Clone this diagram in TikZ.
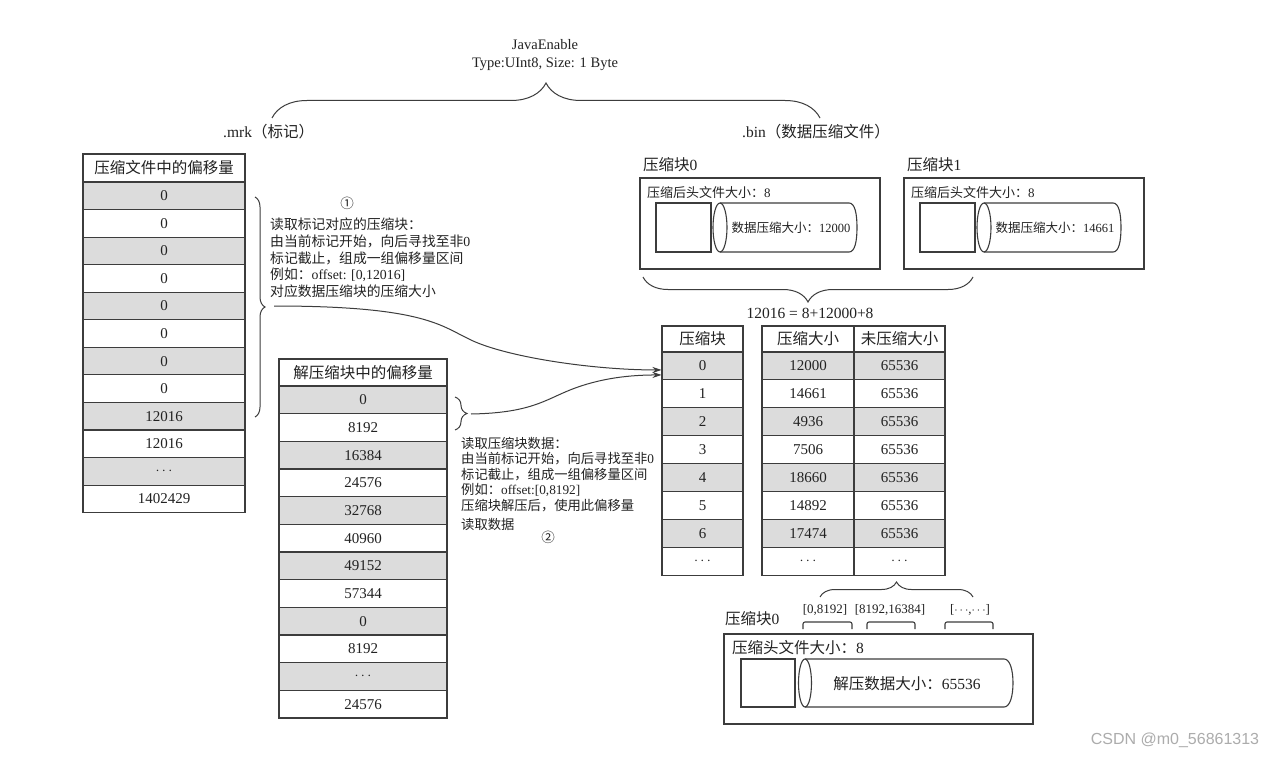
\documentclass[tikz,border=0pt]{standalone}
\usepackage{fontspec}
\setmainfont{Liberation Serif}
\newfontfamily\cjkf{Noto Sans CJK SC}
\newfontfamily\wmfont{Liberation Sans}
\usetikzlibrary{decorations.pathreplacing,arrows.meta}
\newcommand\zh[1]{{\cjkf #1}}
\newcommand\cdt{$\cdots$}
\definecolor{linec}{HTML}{3C3C3C}
\definecolor{cellgray}{HTML}{DCDCDC}
\definecolor{txt}{HTML}{222222}
\begin{document}
\begin{tikzpicture}[x=1pt,y=-1pt,
  cell/.style={draw=linec,line width=1.1pt,inner sep=0pt,text=txt,font=\fontsize{15}{18}\selectfont},
  cellzh/.style={cell,font=\cjkf\fontsize{15.5}{18}\selectfont},
  row1/.style={fill=cellgray},
  row0/.style={fill=white},
  lbl/.style={inner sep=0pt,text=txt},
  boxst/.style={draw=linec,line width=1.1pt,inner sep=0pt},
  boxline/.style={draw=linec,line width=1.1pt},
  bracest/.style={draw=linec,line width=1pt,decorate,decoration={brace,amplitude=#1}},
  conn/.style={draw=linec,line width=1pt,-{Stealth[length=9pt,width=6pt]}},
  fs13/.style={font=\fontsize{13}{16.5}\selectfont},
  fs15/.style={font=\fontsize{15.5}{18}\selectfont}
]
\useasboundingbox (0,0) rectangle (1280,757);
\fill[white] (0,0) rectangle (1280,757);

% header
\node[lbl,font=\fontsize{14.5}{17}\selectfont] (je) at (545,45) {JavaEnable};
\node[lbl,font=\fontsize{14.5}{17}\selectfont] (typ) at (545,64) {Type:UInt8, Size: 1 Byte};
\draw[bracest=35pt] (272,118) -- (820,118);
\node[lbl,fs15,anchor=west] (mrk) at (223,132) {.mrk\zh{（标记）}};
\node[lbl,fs15,anchor=west] (bin) at (742,132) {.bin\zh{（数据压缩文件）}};

% left table
\node[cellzh,minimum width=162pt,minimum height=28pt] (LH) at (164,168) {压缩文件中的偏移量};
\foreach \t [count=\i] in {0,0,0,0,0,0,0,0,12016,12016,\cdt,1402429}{
  \pgfmathtruncatemacro\p{mod(\i,2)}
  \node[cell,row\p,minimum width=162pt,minimum height=27.56pt] (L\i) at (164,{182+27.56*(\i-0.5)}) {\t};
}
\draw[bracest=10pt] (255,197) -- (255,417);
\coordinate (br1) at (274,306);
\node[lbl,font=\cjkf\fontsize{13.5}{13.5}\selectfont] (c1) at (347,203) {①};
\node[lbl,anchor=north west,align=left,font=\fontsize{13.8}{16.6}\selectfont] (ann1) at (270,218) {\zh{读取标记对应的压缩块：}\\ \zh{由当前标记开始，向后寻找至非}0\\ \zh{标记截止，组成一组偏移量区间}\\ \zh{例如：}offset: [0,12016]\\ \zh{对应数据压缩块的压缩大小}};

% middle table
\node[cellzh,minimum width=168pt,minimum height=27pt] (MH) at (363,372.5) {解压缩块中的偏移量};
\foreach \t [count=\i] in {0,8192,16384,24576,32768,40960,49152,57344,0,8192,\cdt,24576}{
  \pgfmathtruncatemacro\p{mod(\i,2)}
  \node[cell,row\p,minimum width=168pt,minimum height=27.67pt] (M\i) at (363,{386+27.67*(\i-0.5)}) {\t};
}
\draw[bracest=12pt] (455,397) -- (455,430);
\coordinate (br2) at (471,414);
\node[lbl,anchor=north west,align=left,font=\fontsize{13.3}{15.5}\selectfont] (ann2) at (461,437) {\zh{读取压缩块数据：}\\ \zh{由当前标记开始，向后寻找至非}0\\ \zh{标记截止，组成一组偏移量区间}\\ \zh{例如：}offset:[0,8192]\\ \zh{压缩块解压后，使用此偏移量}\\[4pt] \zh{读取数据}};
\node[lbl,font=\cjkf\fontsize{13.5}{13.5}\selectfont] (c2) at (548,537) {②};

% right tables
\node[cellzh,minimum width=81pt,minimum height=26pt] (BH) at (702.5,339) {压缩块};
\node[cellzh,minimum width=92pt,minimum height=26pt] (CH) at (808,339) {压缩大小};
\node[cellzh,minimum width=91pt,minimum height=26pt] (UH) at (899.5,339) {未压缩大小};
\foreach \b/\c/\u [count=\i] in {0/12000/65536,1/14661/65536,2/4936/65536,3/7506/65536,4/18660/65536,5/14892/65536,6/17474/65536,\cdt/\cdt/\cdt}{
  \pgfmathtruncatemacro\p{mod(\i,2)}
  \node[cell,row\p,minimum width=81pt,minimum height=27.9pt] (B\i) at (702.5,{352+27.9*(\i-0.5)}) {\b};
  \node[cell,row\p,minimum width=92pt,minimum height=27.9pt] (C\i) at (808,{352+27.9*(\i-0.5)}) {\c};
  \node[cell,row\p,minimum width=91pt,minimum height=27.9pt] (U\i) at (899.5,{352+27.9*(\i-0.5)}) {\u};
}

% connectors
\draw[conn] (br1) .. controls (420,306) and (440,325) .. (467,338) .. controls (500,356) and (590,370) .. ([yshift=-4pt]B1.west);
\draw[conn] (br2) .. controls (530,413) and (545,400) .. (570,390) .. controls (600,378) and (630,375) .. ([yshift=-9pt]B1.west);

% top-right compressed blocks
\foreach \k/\dx/\v in {0/0/12000,1/264/14661}{
  \node[lbl,fs15,anchor=west] (blk\k) at ({643+\dx},165) {\zh{压缩块}\k};
  \node[boxst,minimum width=240pt,minimum height=91pt] (box\k) at ({760+\dx},223.5) {};
  \node[lbl,fs13,anchor=west] (hd\k) at ({647+\dx},193) {\zh{压缩后头文件大小：}8};
  \node[boxst,minimum width=55pt,minimum height=49pt] (sq\k) at ({683.5+\dx},227.5) {};
  \draw[boxline] ({720+\dx},203) -- ({849+\dx},203) .. controls ({855+\dx},203) and ({857+\dx},214) .. ({857+\dx},227.5) .. controls ({857+\dx},241) and ({855+\dx},252) .. ({849+\dx},252) -- ({720+\dx},252);
  \draw[boxline] ({720+\dx},227.5) ellipse [x radius=7, y radius=24.5];
  \node[lbl,font=\fontsize{12.5}{15}\selectfont] (cy\k) at ({791+\dx},228) {\zh{数据压缩大小：}\v};
}
\draw[bracest=25pt] (973,277) -- (643,277);
\node[lbl,fs15] (sum) at (810,313) {12016 = 8+12000+8};

% bottom-right decompressed block
\draw[bracest=15pt] (820,597) -- (973,597);
\node[lbl,fs13] (r1) at (825,610) {[0,8192]};
\node[lbl,fs13] (r2) at (890,610) {[8192,16384]};
\node[lbl,fs13] (r3) at (970,610) {[\cdt,\cdt]};
\draw[boxline,rounded corners=2pt] (803,629) -- (803,622) -- (852,622) -- (852,629);
\draw[boxline,rounded corners=2pt] (867,629) -- (867,622) -- (915,622) -- (915,629);
\draw[boxline,rounded corners=2pt] (945,629) -- (945,622) -- (993,622) -- (993,629);
\node[lbl,fs15,anchor=west] (blkb) at (725,619) {\zh{压缩块}0};
\node[boxst,minimum width=309pt,minimum height=90pt] (boxb) at (878.5,679) {};
\node[lbl,fs15,anchor=west] (hdb) at (732,648) {\zh{压缩头文件大小：}8};
\node[boxst,minimum width=54pt,minimum height=48pt] (sqb) at (768,683) {};
\draw[boxline] (805,659) -- (1004,659) .. controls (1010,659) and (1013,670) .. (1013,683) .. controls (1013,696) and (1010,707) .. (1004,707) -- (805,707);
\draw[boxline] (805,683) ellipse [x radius=6.5, y radius=24];
\node[lbl,fs15] (cyb) at (907,684) {\zh{解压数据大小：}65536};

% watermark
\node[lbl,text=gray!65,font=\wmfont\fontsize{16}{18}\selectfont] (wm) at (1175,740) {CSDN @m0\_56861313};
\end{tikzpicture}
\end{document}
